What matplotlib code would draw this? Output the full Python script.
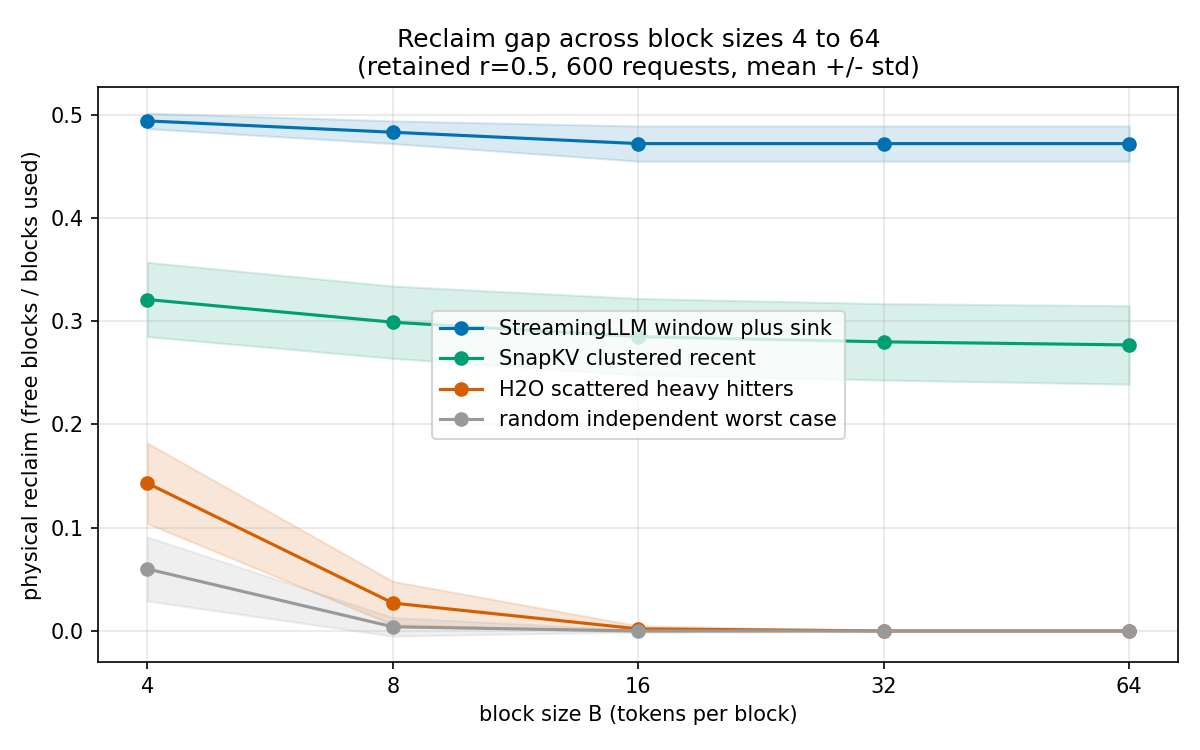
import matplotlib
matplotlib.use("Agg")
import matplotlib.pyplot as plt
import numpy as np

# block sizes (tokens per block)
block_sizes = [4, 8, 16, 32, 64]

# mean / std of physical reclaim per policy
streaming_mean = [0.494, 0.483, 0.472, 0.472, 0.472]
streaming_std = [0.0075, 0.011, 0.017, 0.017, 0.017]

snapkv_mean = [0.321, 0.299, 0.285, 0.280, 0.277]
snapkv_std = [0.036, 0.035, 0.037, 0.037, 0.038]

h2o_mean = [0.143, 0.027, 0.002, 0.0, 0.0]
h2o_std = [0.039, 0.021, 0.003, 0.0005, 0.0]

random_mean = [0.060, 0.004, 0.0, 0.0, 0.0]
random_std = [0.031, 0.009, 0.001, 0.0, 0.0]

labels = [
    "StreamingLLM window plus sink",
    "SnapKV clustered recent",
    "H2O scattered heavy hitters",
    "random independent worst case",
]
couleurs = ["#0072B2", "#009E73", "#D55E00", "#999999"]

fig, ax = plt.subplots(figsize=(8, 5), dpi=150)

series = [
    (streaming_mean, streaming_std),
    (snapkv_mean, snapkv_std),
    (h2o_mean, h2o_std),
    (random_mean, random_std),
]

for (moy, ecart), label, c in zip(series, labels, couleurs):
    moy = np.array(moy)
    ecart = np.array(ecart)
    ax.plot(block_sizes, moy, marker="o", color=c, label=label)
    ax.fill_between(block_sizes, moy - ecart, moy + ecart, color=c, alpha=0.15)

ax.set_xscale("log", base=2)
ax.set_xticks(block_sizes)
ax.set_xticklabels([str(b) for b in block_sizes])
ax.minorticks_off()
ax.grid(True, alpha=0.3)

ax.set_xlabel("block size B (tokens per block)")
ax.set_ylabel("physical reclaim (free blocks / blocks used)")
ax.set_title("Reclaim gap across block sizes 4 to 64\n(retained r=0.5, 600 requests, mean +/- std)")
ax.legend(loc="center")

fig.subplots_adjust(left=0.082, right=0.982, top=0.884, bottom=0.117)
fig.savefig("out.png")
